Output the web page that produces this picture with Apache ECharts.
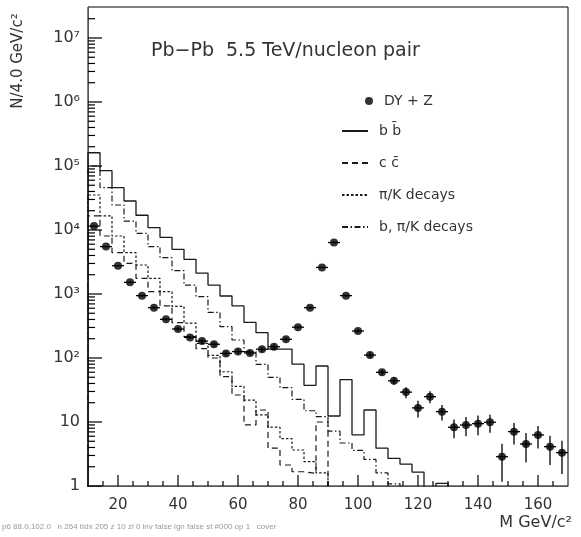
<!DOCTYPE html>
<html><head><meta charset="utf-8">
<script src="https://cdn.jsdelivr.net/npm/echarts@6/dist/echarts.min.js"></script>
<style>html,body{margin:0;padding:0;background:#fff}#c{width:581px;height:537px}#dbg{position:absolute;left:2px;top:522px;font:8px sans-serif;color:#999;width:480px;white-space:pre}</style>
</head><body><div id="c"></div><div id="dbg"></div>
<script>
// ---- data ----
const binEdges = [10,14,18,22,26,30,34,38,42,46,50,54,58,62,66,70,74,78,82,86,90,94,98,102,106,110,114,118,122,126,130,134,138,142,146,150,154,158,162,166,170];
const massCenters = [12,16,20,24,28,32,36,40,44,48,52,56,60,64,68,72,76,80,84,88,92,96,100,104,108,112,116,120,124,128,132,136,140,144,148,152,156,160,164,168];
const halfBinWidth = 2;
const dyZ = [11500,5500,2770,1520,942,611,402,284,210,184,164,118,126,120,137,150,196,303,611,2600,6370,942,264,111,59.7,44,29.3,16.6,24.9,14.5,8.26,8.98,9.42,9.9,2.87,7.06,4.53,6.27,4.12,3.32];
const dyZErr = [107,74,53,39,31,25,20,17,14.5,13.6,12.8,10.9,11.2,11,11.7,12.2,14,17.4,24.7,51,80,31,16.2,12,6,5.5,5.7,4.8,5.3,3.9,2.7,3.0,3.2,3.1,1.7,2.6,2.2,2.4,2.0,1.78];
const bbbar = [161000,84500,45800,28400,17000,10900,7680,4990,3480,2120,1380,931,650,360,249,138,138,80,37.4,75,12.4,46,6.3,15.4,3.9,2.7,2.2,1.65,0,1.1];
const ccbar = [16600,8060,4420,3010,1760,1090,650,356,215,140,100,51,26.4,9.0,15.4,3.9,2.13,1.67,1.58,10,0];
const piK = [35200,16600,8060,4420,2840,1760,1090,640,350,169,110,61,36,22,12.9,8.3,5.5,3.65,2.4,1.6,0];
const bPiK = [100000,45800,24600,13800,8870,5500,3700,2320,1380,908,518,309,191,126,79.6,49.9,34.4,22.6,15.0,12.1,7.2,4.7,3.6,2.6,1.6,1.08,0];
const xTicksMajor = [20,40,60,80,100,120,140,160];
const xTicksMinor = [15,25,30,35,45,50,55,65,70,75,85,90,95,105,110,115,125,130,135,145,150,155,165];
const yTicksMajor = [1,10,100,1000,10000,100000,1000000,10000000];
const yTicksMinor = [2,3,4,5,6,7,8,9,20,30,40,50,60,70,80,90,200,300,400,500,600,700,800,900,
  2e3,3e3,4e3,5e3,6e3,7e3,8e3,9e3,2e4,3e4,4e4,5e4,6e4,7e4,8e4,9e4,2e5,3e5,4e5,5e5,6e5,7e5,8e5,9e5,
  2e6,3e6,4e6,5e6,6e6,7e6,8e6,9e6,2e7];
const xMin = 10, xMax = 170, yMin = 1, yMax = 3.05e7;
const names = {dy:'DY + Z', bb:'b b\u0304', cc:'c c\u0304', pk:'\u03c0/K decays', bpk:'b, \u03c0/K decays'};

// ---- build ----
const FONT = 'DejaVu Sans';
const INK = '#1a1a1a';
const TXT = '#333';
const SUP = ['\u2070','\u00b9','\u00b2','\u00b3','\u2074','\u2075','\u2076','\u2077','\u2078','\u2079'];
function stepData(vals){
  const floor = 0.1; // empty bins: below the visible range of the log axis
  const pts = [[binEdges[0], floor]];
  for (let i = 0; i < vals.length; i++) pts.push([binEdges[i], vals[i] > 0 ? vals[i] : floor]);
  pts.push([binEdges[vals.length], floor]);
  return pts;
}
function yLabel(v){
  const e = Math.round(Math.log10(v));
  if (e === 0) return '1';
  if (e === 1) return '10';
  return '10' + SUP[e];
}
// inward axis ticks: [x, y, direction (0 = on x axis, 1 = on y axis), length px]
const tickItems = [].concat(
  xTicksMajor.map(v => [v, yMin, 0, 11]),
  xTicksMinor.map(v => [v, yMin, 0, 5]),
  yTicksMajor.map(v => [xMin, v, 1, 14]),
  yTicksMinor.map(v => [xMin, v, 1, 7])
);
const HIDE = 'rgba(0,0,0,0)';
const lineBase = {type:'line', step:'end', symbol:'none', showSymbol:false, clip:true, z:3, itemStyle:{color:HIDE}};
const chart = echarts.init(document.getElementById('c'), null, {renderer:'canvas'});
chart.setOption({
  animation:false,
  grid:{left:88, right:13, top:7, bottom:51, show:true, borderColor:'#000', borderWidth:1, backgroundColor:'transparent'},
  title:{text:'Pb\u2212Pb  5.5 TeV/nucleon pair', left:146, top:37,
    textStyle:{fontFamily:FONT, fontSize:19, fontWeight:'normal', color:TXT}},
  graphic:[{type:'text', id:'ytitle', x:18, y:61, rotation:Math.PI/2,
    style:{text:'N/4.0 GeV/c\u00b2', fontFamily:FONT, fontSize:15, fill:TXT, align:'center', verticalAlign:'middle'}}],
  xAxis:{type:'value', min:xMin, max:xMax,
      name:'M GeV/c\u00b2', nameLocation:'end', nameGap:4,
      nameTextStyle:{fontFamily:FONT, fontSize:16, color:TXT, align:'right', verticalAlign:'top', padding:[29,0,0,0]},
      axisTick:{show:false},
      axisLabel:{customValues:xTicksMajor, margin:12, fontFamily:FONT, fontSize:15, color:TXT},
      splitLine:{show:false}},
  yAxis:{type:'log', min:yMin, max:yMax,
      axisTick:{show:false},
      axisLabel:{customValues:yTicksMajor, margin:8, formatter:yLabel, fontFamily:FONT, fontSize:16, color:TXT},
      splitLine:{show:false}},
  legend:[
    {data:[{name:names.dy, icon:'circle'}], orient:'vertical', left:365, top:94, padding:0, itemWidth:8, itemHeight:8,
      selectedMode:false, textStyle:{fontFamily:FONT, fontSize:14, color:TXT, padding:[0,0,0,6]}},
    {data:[names.bb, names.cc, names.pk, names.bpk], orient:'vertical', left:341, top:124, padding:0, itemWidth:26, itemHeight:12,
      itemGap:18, selectedMode:false, textStyle:{fontFamily:FONT, fontSize:14, color:TXT, padding:[0,0,0,6]}}
  ],
  series:[
    {...lineBase, name:names.bb, data:stepData(bbbar), lineStyle:{color:INK, width:1.3, type:'solid'}},
    {...lineBase, name:names.cc, data:stepData(ccbar), lineStyle:{color:INK, width:1.2, type:[6,4]}},
    {...lineBase, name:names.pk, data:stepData(piK), lineStyle:{color:INK, width:1.2, type:[2.5,2]}},
    {...lineBase, name:names.bpk, data:stepData(bPiK), lineStyle:{color:INK, width:1.2, type:[6,2.5,1.5,2.5]}},
    {type:'custom', clip:true, z:4, data:massCenters.map((m,i)=>[m, dyZ[i], dyZErr[i]]),
      renderItem:function(params, api){
        const x = api.value(0), y = api.value(1), e = api.value(2);
        const l = api.coord([x - halfBinWidth, y]), r = api.coord([x + halfBinWidth, y]);
        const t = api.coord([x, y + e]), b = api.coord([x, Math.max(y - e, 0.05)]);
        return {type:'group', children:[
          {type:'line', shape:{x1:l[0], y1:l[1], x2:r[0], y2:r[1]}, style:{stroke:'#000', lineWidth:1.3}},
          {type:'line', shape:{x1:t[0], y1:t[1], x2:b[0], y2:b[1]}, style:{stroke:'#000', lineWidth:1.3}}
        ]};
      }},
    {name:names.dy, type:'scatter', data:massCenters.map((m,i)=>[m, dyZ[i]]), symbol:'circle', symbolSize:8,
      itemStyle:{color:'#000'}, z:5},
    {type:'custom', clip:false, z:10, data:tickItems,
      renderItem:function(params, api){
        const p = api.coord([api.value(0), api.value(1)]);
        const vert = api.value(2) === 0, len = api.value(3);
        return {type:'line',
          shape: vert ? {x1:p[0], y1:p[1], x2:p[0], y2:p[1] - len} : {x1:p[0], y1:p[1], x2:p[0] + len, y2:p[1]},
          style:{stroke:'#000', lineWidth:1.2}};
      }}
  ]
});
// ---- diagnostics (tiny) ----
try {
  const out = [];
  const p6 = chart.convertToPixel({gridIndex:0}, [xMin, 1e6]);
  out.push('p6 ' + p6.map(v => v.toFixed(1)).join(','));
  const list = chart.getZr().storage.getDisplayList(true);
  let tIdx = -1, tEl = null;
  list.forEach((el, i) => {
    if (tIdx < 0 && el.type === 'line' && el.shape && Math.abs(el.shape.y1 - p6[1]) < 0.6 && Math.abs(el.shape.x2 - el.shape.x1 - 14) < 0.6) { tIdx = i; tEl = el; }
  });
  out.push('n ' + list.length + ' tIdx ' + tIdx + (tEl ? (' z ' + tEl.z + ' zl ' + tEl.zlevel + ' inv ' + tEl.invisible + ' ign ' + tEl.ignore + ' st ' + tEl.style.stroke + ' op ' + tEl.style.opacity) : ''));
  const cover = [];
  list.forEach((el, i) => {
    if (i <= tIdx || cover.length > 4) return;
    const r = el.getBoundingRect().clone(); if (el.transform) r.applyTransform(el.transform);
    if (r.contain(95, p6[1])) cover.push(el.type + ':' + (el.style && el.style.fill) + ':z' + el.z + ':' + Math.round(r.width) + 'x' + Math.round(r.height));
  });
  out.push('cover ' + cover.join(' | '));
  document.getElementById('dbg').textContent = out.join('   ');
} catch (e) { document.getElementById('dbg').textContent = 'dbgERR ' + e.message; }
</script></body></html>
